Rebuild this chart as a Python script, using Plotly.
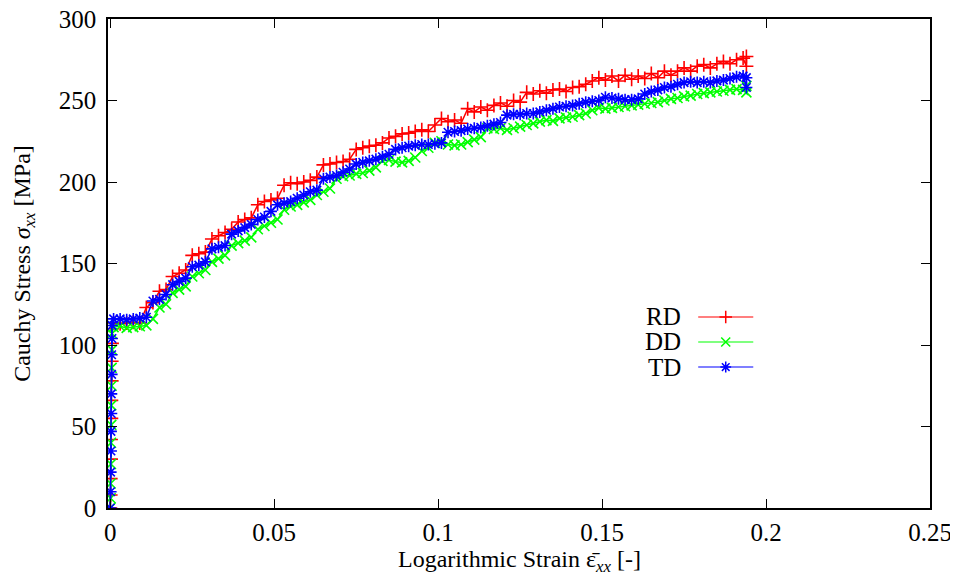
import plotly.graph_objects as go

# ---------------- data ----------------
strain_grid = [
    0.001, 0.003, 0.005, 0.007, 0.009, 0.011, 0.013, 0.015, 0.017, 0.019,
    0.021, 0.023, 0.025, 0.027, 0.029, 0.031, 0.033, 0.035, 0.037, 0.039,
    0.041, 0.043, 0.045, 0.047, 0.049, 0.051, 0.053, 0.055, 0.057, 0.059,
    0.061, 0.063, 0.065, 0.067, 0.069, 0.071, 0.073, 0.075, 0.077, 0.079,
    0.081, 0.083, 0.085, 0.087, 0.089, 0.091, 0.093, 0.095, 0.097, 0.099,
    0.101, 0.103, 0.105, 0.107, 0.109, 0.111, 0.113, 0.115, 0.117, 0.119,
    0.121, 0.123, 0.125, 0.127, 0.129, 0.131, 0.133, 0.135, 0.137, 0.139,
    0.141, 0.143, 0.145, 0.147, 0.149, 0.151, 0.153, 0.155, 0.157, 0.159,
    0.161, 0.163, 0.165, 0.167, 0.169, 0.171, 0.173, 0.175, 0.177, 0.179,
    0.181, 0.183, 0.185, 0.187, 0.189, 0.191, 0.193, 0.194, 0.194,
]

elastic_strain = [0.0, 0.0001, 0.0001, 0.0002, 0.0002, 0.0003, 0.0003, 0.0004, 0.0004, 0.0005, 0.0005]

rd_elastic = [0, 8, 18, 30, 42, 55, 66, 78, 90, 101, 110]
dd_elastic = [0, 6, 15, 27, 40, 51, 63, 75, 86, 97, 107]
td_elastic = [0, 10, 22, 35, 47, 58, 70, 82, 94, 104, 112]

rd_stress = [
    113.5, 113, 113.5, 114, 113.5, 123, 126, 133, 134, 142,
    144, 146, 155, 156, 157, 165, 167, 169, 171, 175.5,
    177, 178, 186, 188, 189, 190, 198, 199.5, 199, 200,
    201, 203, 210.5, 211, 212, 212.5, 214, 220, 221, 222,
    222.5, 224, 227, 228, 229.5, 230, 231, 232, 231, 235,
    239, 237, 238, 236, 245, 243, 246, 244, 247, 248.5,
    246.5, 250, 249, 255, 254, 256, 254.5, 256.5, 257, 255.5,
    258, 258.5, 260, 262, 264, 262.5, 265, 262, 265.5, 263,
    265, 263.5, 266.5, 264, 268, 265.5, 268, 270, 268, 271,
    272, 270, 272.5, 274, 272.5, 275, 276, 271, 277,
]

dd_stress = [
    111, 111.5, 110.5, 111, 111.5, 112, 116, 123, 125, 132,
    134, 136, 142, 144, 146, 151, 153, 155, 161, 162.5,
    164, 166, 171, 173, 175, 177, 183, 185, 186, 187.5,
    189, 192, 194, 196, 202, 203.5, 204, 205, 205.5, 207,
    209, 213, 213.5, 212.5, 212, 213, 215, 219, 221, 224,
    225, 223, 222.5, 223, 224.5, 226, 227.5, 233, 232.5, 233,
    232, 233, 234, 235, 236, 237, 238, 237.5, 239, 239.5,
    240, 241, 242, 244, 245.5, 245, 245.5, 246, 246.5, 247,
    247.5, 248, 248.5, 249, 250, 251, 251.5, 252.5, 253, 254,
    254.5, 255, 255.5, 256, 256.5, 257, 256.5, 255, 259,
]

td_stress = [
    116, 116, 115.5, 116, 116.5, 117, 127, 128, 131, 137,
    139, 141, 148, 149, 151, 159, 160, 161, 168, 170,
    172, 174, 177, 178.5, 182, 186, 187, 188, 190, 192,
    194, 195, 202, 203, 204, 206, 208, 211, 212, 213,
    214, 215.5, 217, 220, 221, 222, 222.5, 223, 223, 223.5,
    224, 230.5, 231, 231.5, 232.5, 233, 233.5, 234.5, 235.5, 236.5,
    241, 241.5, 241.5, 242, 242, 243, 244, 245, 246, 246.5,
    247, 248, 249, 249.5, 250, 252, 251.5, 251, 250.5, 250.5,
    251, 254, 255.5, 256.5, 258, 258.5, 260, 261, 261.5, 261,
    261.5, 261, 262, 262.5, 263.5, 264.5, 265, 258, 264,
]

series_names = ["RD", "DD", "TD"]
series_colors = ["#ff0000", "#00ff00", "#0000ff"]
series_symbols = ["cross-thin-open", "x-thin-open", "asterisk-open"]
series_elastic = [rd_elastic, dd_elastic, td_elastic]
series_stress = [rd_stress, dd_stress, td_stress]

x_ticks = [0, 0.05, 0.1, 0.15, 0.2, 0.25]
x_tick_labels = ["0", "0.05", "0.1", "0.15", "0.2", "0.25"]
y_ticks = [0, 50, 100, 150, 200, 250, 300]

x_title = "Logarithmic Strain ε̄<sub><i>xx</i></sub> [-]"
y_title = "Cauchy Stress <i>σ</i><sub><i>xx</i></sub> [MPa]"

FONT = "Liberation Serif"
FS_TICK = 25
FS_TITLE = 24
FS_LEG = 25

fig = go.Figure()

for name, col, sym, el, st in zip(series_names, series_colors, series_symbols,
                                  series_elastic, series_stress):
    fig.add_trace(go.Scatter(
        x=elastic_strain + strain_grid,
        y=el + st,
        mode="lines+markers",
        name=name,
        line=dict(color=col, width=1.5),
        marker=dict(symbol=sym, size=10, color=col, line=dict(color=col, width=1.6)),
        showlegend=False,
    ))

# legend (gnuplot style: text left, sample right) on an overlay axis in [0,1]
legend_y = [0.3906, 0.3395, 0.2883]
for name, col, sym, ly in zip(series_names, series_colors, series_symbols, legend_y):
    fig.add_trace(go.Scatter(
        x=[0.718, 0.785], y=[ly, ly], xaxis="x2", yaxis="y2", mode="lines",
        line=dict(color=col, width=1.2), showlegend=False, hoverinfo="skip",
    ))
    fig.add_trace(go.Scatter(
        x=[0.7515], y=[ly], xaxis="x2", yaxis="y2", mode="markers",
        marker=dict(symbol=sym, size=9, color=col, line=dict(color=col, width=1.5)),
        showlegend=False, hoverinfo="skip",
    ))
    fig.add_annotation(
        x=0.6995, y=ly, xref="paper", yref="paper", text=name,
        showarrow=False, xanchor="right", yanchor="middle",
        font=dict(family=FONT, size=FS_LEG, color="black"),
    )

# x-axis title as an annotation for exact placement
fig.add_annotation(
    x=0.5, y=0, xref="paper", yref="paper", text=x_title,
    showarrow=False, xanchor="center", yanchor="middle", yshift=-53,
    font=dict(family=FONT, size=FS_TITLE, color="black"),
)

axis_common = dict(
    showline=True, linecolor="black", linewidth=1.5, mirror="ticks",
    ticks="inside", ticklen=9, tickwidth=1, tickcolor="black",
    showgrid=False, zeroline=False, automargin=False,
    ticklabeloverflow="allow",
    tickfont=dict(family=FONT, size=FS_TICK, color="black"),
)

# the page body adds an 8 px offset, so margins are shifted accordingly
fig.update_layout(
    width=958, height=574,
    margin=dict(l=100, r=36, t=11, b=74),
    paper_bgcolor="white", plot_bgcolor="white",
    font=dict(family=FONT, size=FS_TITLE, color="black"),
    xaxis=dict(
        range=[-0.0007, 0.25], tickvals=x_ticks, ticktext=x_tick_labels,
        ticklabelstandoff=1,
        **axis_common,
    ),
    yaxis=dict(
        range=[0, 300], tickvals=y_ticks,
        title=dict(text=y_title, font=dict(family=FONT, size=FS_TITLE), standoff=21),
        ticklabelstandoff=5,
        **axis_common,
    ),
    xaxis2=dict(range=[0, 1], overlaying="x", visible=False, fixedrange=True),
    yaxis2=dict(range=[0, 1], overlaying="y", visible=False, fixedrange=True),
    showlegend=False,
)

fig.write_html("out.html")
